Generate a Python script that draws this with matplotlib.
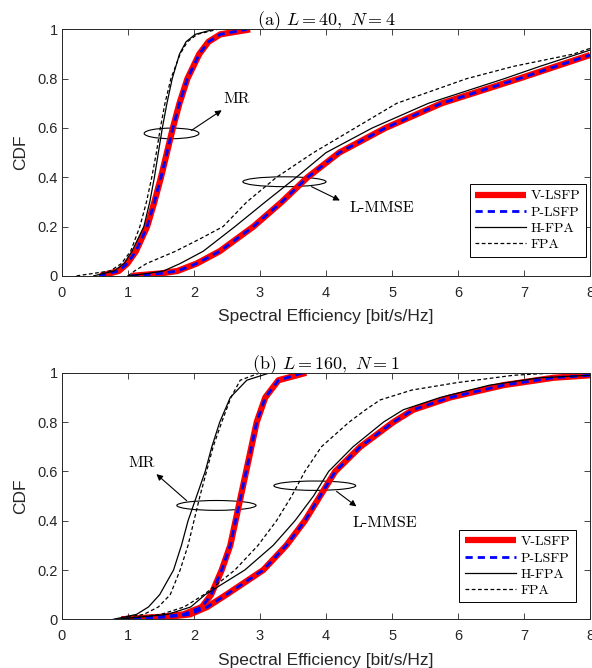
import matplotlib
matplotlib.use('Agg')
import matplotlib.pyplot as plt
from matplotlib.patches import Ellipse

# ---------- data: (a) L = 40, N = 4 ----------
# MR curves: SE values at the given CDF levels
a_mr_cdf = [0, 0.02, 0.05, 0.1, 0.2, 0.3, 0.4, 0.5, 0.6, 0.7, 0.8, 0.9, 0.95, 0.98, 1.0]
a_mr_fpa = [0.22, 0.73, 0.90, 1.04, 1.18, 1.28, 1.36, 1.43, 1.49, 1.56, 1.65, 1.79, 1.90, 2.05, 2.35]
a_mr_hfpa = [0.48, 0.79, 0.94, 1.06, 1.24, 1.33, 1.40, 1.46, 1.52, 1.59, 1.67, 1.78, 1.88, 2.02, 2.30]
a_mr_vlsfp = [0.58, 0.86, 0.99, 1.12, 1.29, 1.40, 1.50, 1.59, 1.68, 1.78, 1.90, 2.08, 2.22, 2.40, 2.85]
a_mr_plsfp = [0.56, 0.86, 0.99, 1.12, 1.29, 1.40, 1.50, 1.59, 1.68, 1.78, 1.90, 2.08, 2.22, 2.40, 2.80]

# L-MMSE curves
a_lm_fpa_cdf = [0, 0.02, 0.05, 0.1, 0.15, 0.2, 0.3, 0.4, 0.5, 0.6, 0.7, 0.8, 0.85, 0.9, 0.923]
a_lm_fpa = [1.0, 1.10, 1.28, 1.72, 2.09, 2.44, 2.80, 3.25, 3.81, 4.44, 5.07, 6.13, 6.84, 7.75, 8.0]
a_lm_hfpa_cdf = [0, 0.01, 0.02, 0.05, 0.1, 0.2, 0.3, 0.4, 0.5, 0.6, 0.7, 0.8, 0.85, 0.916]
a_lm_hfpa = [1.0, 1.30, 1.54, 1.79, 2.14, 2.62, 3.08, 3.55, 4.0, 4.70, 5.55, 6.70, 7.24, 8.0]
a_lm_lsfp_cdf = [0, 0.01, 0.02, 0.05, 0.1, 0.2, 0.3, 0.4, 0.5, 0.6, 0.7, 0.8, 0.896]
a_lm_vlsfp = [1.05, 1.50, 1.75, 2.04, 2.39, 2.90, 3.33, 3.72, 4.20, 4.90, 5.75, 6.92, 8.0]
a_lm_plsfp = [1.05, 1.50, 1.75, 2.04, 2.39, 2.90, 3.33, 3.72, 4.20, 4.90, 5.75, 6.92, 8.0]

# ---------- data: (b) L = 160, N = 1 ----------
b_mr_cdf = [0, 0.02, 0.05, 0.1, 0.2, 0.3, 0.4, 0.5, 0.6, 0.7, 0.8, 0.9, 0.97, 1.0]
b_mr_hfpa = [0.78, 1.13, 1.31, 1.48, 1.69, 1.81, 1.91, 2.04, 2.17, 2.27, 2.39, 2.55, 2.80, 3.15]
b_mr_fpa = [0.80, 1.24, 1.46, 1.64, 1.79, 1.91, 2.00, 2.09, 2.19, 2.29, 2.42, 2.56, 2.70, 3.00]
b_mr_lsfp_cdf = [0, 0.01, 0.02, 0.05, 0.1, 0.15, 0.2, 0.3, 0.4, 0.5, 0.6, 0.7, 0.8, 0.9, 0.97, 1.0]
b_mr_vlsfp = [0.90, 1.50, 1.84, 2.12, 2.26, 2.34, 2.42, 2.55, 2.63, 2.71, 2.79, 2.87, 2.95, 3.08, 3.28, 3.70]
b_mr_plsfp = [0.90, 1.50, 1.84, 2.12, 2.26, 2.34, 2.42, 2.55, 2.63, 2.71, 2.79, 2.87, 2.95, 3.08, 3.28, 3.65]

b_lm_fpa_cdf = [0, 0.02, 0.05, 0.1, 0.2, 0.3, 0.4, 0.5, 0.6, 0.7, 0.8, 0.85, 0.89, 0.93, 0.96, 0.99, 1.0]
b_lm_fpa = [0.85, 1.50, 1.85, 2.15, 2.62, 2.97, 3.25, 3.48, 3.68, 3.93, 4.35, 4.60, 4.82, 5.30, 5.98, 6.84, 7.50]
b_lm_hfpa_cdf = [0, 0.02, 0.05, 0.1, 0.2, 0.3, 0.4, 0.5, 0.6, 0.7, 0.8, 0.85, 0.9, 0.95, 0.98, 0.99]
b_lm_hfpa = [0.85, 1.60, 1.95, 2.17, 2.77, 3.20, 3.53, 3.81, 4.04, 4.41, 4.87, 5.17, 5.73, 6.48, 7.24, 8.0]
b_lm_lsfp_cdf = [0, 0.01, 0.02, 0.05, 0.1, 0.2, 0.3, 0.4, 0.5, 0.6, 0.7, 0.8, 0.85, 0.9, 0.95, 0.98, 0.99]
b_lm_vlsfp = [0.90, 1.60, 1.94, 2.20, 2.49, 3.05, 3.40, 3.68, 3.91, 4.14, 4.52, 5.02, 5.32, 5.88, 6.69, 7.45, 8.0]
b_lm_plsfp = [0.90, 1.60, 1.94, 2.20, 2.49, 3.05, 3.40, 3.68, 3.91, 4.14, 4.52, 5.02, 5.32, 5.88, 6.69, 7.45, 8.0]

plt.rcParams['font.family'] = 'Liberation Sans'
plt.rcParams['mathtext.fontset'] = 'cm'
serif = 'cmr10'
gray = '#262626'

fig = plt.figure(figsize=(5.92, 6.68), dpi=100)
ax1 = fig.add_axes([0.1047, 0.587, 0.892, 0.369])
ax2 = fig.add_axes([0.1047, 0.0729, 0.892, 0.369])

v_style = dict(color='red', lw=4.5, solid_capstyle='butt')
p_style = dict(color='blue', lw=2.0, linestyle=(0, (2.6, 1.8)))
h_style = dict(color='black', lw=0.9)
f_style = dict(color='black', lw=0.9, linestyle=(0, (3, 2)))

# (a)
ax1.plot(a_mr_vlsfp, a_mr_cdf, **v_style, label='V-LSFP')
ax1.plot(a_lm_vlsfp, a_lm_lsfp_cdf, **v_style)
ax1.plot(a_mr_plsfp, a_mr_cdf, **p_style, label='P-LSFP')
ax1.plot(a_lm_plsfp, a_lm_lsfp_cdf, **p_style)
ax1.plot(a_mr_hfpa, a_mr_cdf, **h_style, label='H-FPA')
ax1.plot(a_lm_hfpa, a_lm_hfpa_cdf, **h_style)
ax1.plot(a_mr_fpa, a_mr_cdf, **f_style, label='FPA')
ax1.plot(a_lm_fpa, a_lm_fpa_cdf, **f_style)

# (b)
ax2.plot(b_mr_vlsfp, b_mr_lsfp_cdf, **v_style, label='V-LSFP')
ax2.plot(b_lm_vlsfp, b_lm_lsfp_cdf, **v_style)
ax2.plot(b_mr_plsfp, b_mr_lsfp_cdf, **p_style, label='P-LSFP')
ax2.plot(b_lm_plsfp, b_lm_lsfp_cdf, **p_style)
ax2.plot(b_mr_hfpa, b_mr_cdf, **h_style, label='H-FPA')
ax2.plot(b_lm_hfpa, b_lm_hfpa_cdf, **h_style)
ax2.plot(b_mr_fpa, b_mr_cdf, **f_style, label='FPA')
ax2.plot(b_lm_fpa, b_lm_fpa_cdf, **f_style)

# ellipses + arrows + labels
arrow = dict(arrowstyle='-|>', lw=0.8, color='k', mutation_scale=9, shrinkA=0, shrinkB=0)
note = dict(family=serif, fontsize=11.5, ha='center', va='center')

ax1.add_patch(Ellipse((1.66, 0.578), 0.83, 0.043, fill=False, lw=0.8))
ax1.annotate('', xy=(2.42, 0.672), xytext=(1.96, 0.59), arrowprops=arrow)
ax1.text(2.65, 0.717, 'MR', **note)
ax1.add_patch(Ellipse((3.37, 0.382), 1.26, 0.040, fill=False, lw=0.8))
ax1.annotate('', xy=(4.21, 0.306), xytext=(3.78, 0.362), arrowprops=arrow)
ax1.text(4.84, 0.274, 'L-MMSE', **note)

ax2.add_patch(Ellipse((2.34, 0.462), 1.20, 0.040, fill=False, lw=0.8))
ax2.annotate('', xy=(1.43, 0.589), xytext=(1.89, 0.481), arrowprops=arrow)
ax2.text(1.21, 0.634, 'MR', **note)
ax2.add_patch(Ellipse((3.83, 0.542), 1.24, 0.038, fill=False, lw=0.8))
ax2.annotate('', xy=(4.46, 0.458), xytext=(4.16, 0.519), arrowprops=arrow)
ax2.text(4.89, 0.39, 'L-MMSE', **note)

titles = [r'(a) $L=40,\ N=4$', r'(b) $L=160,\ N=1$']
legend_anchor = [(0.992, 0.372), (0.973, 0.362)]
for ax, t, anc in zip([ax1, ax2], titles, legend_anchor):
    ax.set_xlim(0, 8)
    ax.set_ylim(0, 1)
    ax.set_xticks(range(0, 9))
    ax.set_yticks([0, 0.2, 0.4, 0.6, 0.8, 1])
    ax.set_yticklabels(['0', '0.2', '0.4', '0.6', '0.8', '1'])
    ax.tick_params(direction='in', top=True, right=True, length=4, width=0.6,
                   colors=gray, labelsize=10.5)
    ax.tick_params(axis='x', pad=7)
    ax.tick_params(axis='y', pad=3)
    for s in ax.spines.values():
        s.set_color(gray)
        s.set_linewidth(0.7)
    ax.set_xlabel('Spectral Efficiency [bit/s/Hz]', fontsize=12.5, color=gray, labelpad=7)
    ax.set_ylabel('CDF', fontsize=12.5, color=gray, labelpad=7)
    ax.set_title(t, family=serif, fontsize=13, pad=3)
    leg = ax.legend(loc='upper right', bbox_to_anchor=anc, prop={'family': serif, 'size': 10},
                    fancybox=False, edgecolor='k', framealpha=1, handlelength=3.7,
                    labelspacing=0.25, handletextpad=0.3, borderpad=0.4, borderaxespad=0)
    leg.get_frame().set_linewidth(0.7)

fig.savefig('out.png', dpi=100)
